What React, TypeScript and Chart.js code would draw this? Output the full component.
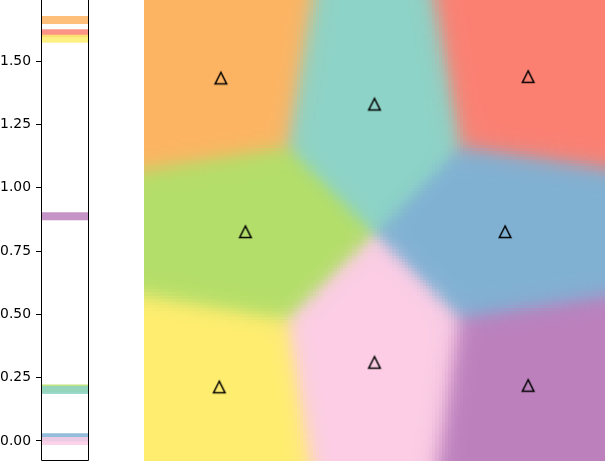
import React, { useEffect, useRef } from "react";
import { Chart, registerables } from "chart.js";

Chart.register(...registerables);

// ---- Data ----
// Seed points of the right panel (data units, x: 0..3, y: 0..3)
const seedX = [0.5, 1.5, 2.5, 0.66, 2.35, 0.49, 1.5, 2.5];
const seedY = [2.49, 2.32, 2.5, 1.49, 1.49, 0.48, 0.64, 0.49];
const seedColors = ["#fdb462", "#8dd3c7", "#fb8072", "#b3de69", "#80b1d3", "#ffed6f", "#fccde5", "#bc80bd"];

// Left panel horizontal bands (listed in drawing order, bottom-most first)
const bandValues = [0.207, 1.61, 0.015, 1.662, 1.588, 0.887, 0.201, 0.0];
const bandColors = ["#b3de69", "#fb8072", "#80b1d3", "#fdb462", "#ffed6f", "#bc80bd", "#8dd3c7", "#fccde5"];

// Left axis ticks
const yTicks = [0, 0.25, 0.5, 0.75, 1.0, 1.25, 1.5];
const yMin = -0.079;
const yMax = 1.741;

const GRID_N = 150;
const TAU = 0.07;

function hexToRgb(h: string): number[] {
  const v = parseInt(h.slice(1), 16);
  return [(v >> 16) & 255, (v >> 8) & 255, v & 255];
}

function hexA(h: string, a: number): string {
  const [r, g, b] = hexToRgb(h);
  return `rgba(${r},${g},${b},${a})`;
}

const voronoiPlugin = {
  id: "voronoiBg",
  beforeDatasetsDraw(chart: any) {
    const { ctx, scales } = chart;
    const xs = scales.x;
    const ys = scales.y;
    const rgb = seedColors.map(hexToRgb);
    const x0 = xs.min, x1 = xs.max, y0 = ys.min, y1 = ys.max;
    const dx = (x1 - x0) / GRID_N;
    const dy = (y1 - y0) / GRID_N;
    ctx.save();
    const d2 = new Array(seedX.length).fill(0);
    for (let i = 0; i < GRID_N; i++) {
      for (let j = 0; j < GRID_N; j++) {
        const cx = x0 + (i + 0.5) * dx;
        const cy = y0 + (j + 0.5) * dy;
        let mn = Infinity;
        for (let k = 0; k < seedX.length; k++) {
          const ex = cx - seedX[k];
          const ey = cy - seedY[k];
          d2[k] = ex * ex + ey * ey;
          if (d2[k] < mn) mn = d2[k];
        }
        let ws = 0, r = 0, g = 0, b = 0;
        for (let k = 0; k < seedX.length; k++) {
          const w = Math.exp(-(d2[k] - mn) / TAU);
          ws += w;
          r += w * rgb[k][0];
          g += w * rgb[k][1];
          b += w * rgb[k][2];
        }
        const px0 = Math.floor(xs.getPixelForValue(x0 + i * dx));
        const px1 = Math.ceil(xs.getPixelForValue(x0 + (i + 1) * dx));
        const py0 = Math.floor(ys.getPixelForValue(y0 + (j + 1) * dy));
        const py1 = Math.ceil(ys.getPixelForValue(y0 + j * dy));
        ctx.fillStyle = `rgb(${Math.round(r / ws)},${Math.round(g / ws)},${Math.round(b / ws)})`;
        ctx.fillRect(px0, py0, px1 - px0, py1 - py0);
      }
    }
    ctx.restore();
  },
};

const framePlugin = {
  id: "leftFrame",
  afterDraw(chart: any) {
    const { ctx, chartArea } = chart;
    ctx.save();
    ctx.strokeStyle = "#000";
    ctx.lineWidth = 1;
    ctx.beginPath();
    const l = Math.floor(chartArea.left) + 0.5;
    const r = Math.floor(chartArea.right) - 0.5;
    const b = Math.floor(chartArea.bottom) - 0.5;
    ctx.moveTo(l, chartArea.top);
    ctx.lineTo(l, b);
    ctx.lineTo(r, b);
    ctx.lineTo(r, chartArea.top);
    ctx.stroke();
    ctx.restore();
  },
};

function makeTriangle(): HTMLCanvasElement {
  const c = document.createElement("canvas");
  c.width = 18;
  c.height = 18;
  const g = c.getContext("2d")!;
  g.strokeStyle = "#000";
  g.lineWidth = 1.5;
  g.lineJoin = "miter";
  g.beginPath();
  g.moveTo(9, 3.0);
  g.lineTo(3.2, 14.6);
  g.lineTo(14.8, 14.6);
  g.closePath();
  g.stroke();
  return c;
}

export default function App() {
  const leftRef = useRef<HTMLCanvasElement>(null);
  const rightRef = useRef<HTMLCanvasElement>(null);

  useEffect(() => {
    const order = bandValues.map((_, i) => i).reverse();
    const left = new Chart(leftRef.current!, {
      type: "line",
      data: {
        datasets: order.map((i) => ({
          data: [
            { x: 0, y: bandValues[i] },
            { x: 1, y: bandValues[i] },
          ],
          borderColor: hexA(bandColors[i], 0.85),
          borderWidth: 8,
          pointRadius: 0,
          borderCapStyle: "butt" as const,
        })),
      },
      options: {
        animation: false,
        responsive: false,
        events: [],
        layout: { autoPadding: false, padding: { left: 0, right: 11, top: 0, bottom: 5 } },
        plugins: { legend: { display: false }, tooltip: { enabled: false } },
        scales: {
          x: { type: "linear", min: 0, max: 1, display: false },
          y: {
            type: "linear",
            min: yMin,
            max: yMax,
            afterBuildTicks: (s: any) => {
              s.ticks = yTicks.map((v) => ({ value: v }));
            },
            afterFit: (s: any) => {
              s.width = 41;
              s.paddingTop = 0;
              s.paddingBottom = 0;
            },
            border: { display: false },
            grid: {
              display: true,
              drawOnChartArea: false,
              drawTicks: true,
              tickLength: 5,
              tickColor: "#000",
              color: "#000",
              lineWidth: 1,
            },
            ticks: {
              color: "#000",
              padding: 5,
              font: { family: "DejaVu Sans", size: 13.9 },
              callback: (v: any) => Number(v).toFixed(2),
            },
          },
        },
      },
      plugins: [framePlugin],
    });

    const tri = makeTriangle();
    const right = new Chart(rightRef.current!, {
      type: "scatter",
      data: {
        datasets: [
          {
            data: seedX.map((x, i) => ({ x, y: seedY[i] })),
            pointStyle: tri as any,
            pointRadius: 7,
          },
        ],
      },
      options: {
        animation: false,
        responsive: false,
        events: [],
        layout: { autoPadding: false, padding: { left: 0, right: 0, top: 0, bottom: 5 } },
        plugins: { legend: { display: false }, tooltip: { enabled: false } },
        scales: {
          x: { type: "linear", min: 0, max: 3, display: false },
          y: { type: "linear", min: 0, max: 3, display: false },
        },
      },
      plugins: [voronoiPlugin],
    });

    return () => {
      left.destroy();
      right.destroy();
    };
  }, []);

  return (
    <div style={{ position: "fixed", left: 0, top: 0, width: 605, height: 466, background: "#fff", overflow: "hidden" }}>
      <canvas ref={leftRef} width={100} height={466} style={{ position: "absolute", left: 0, top: 0 }} />
      <canvas ref={rightRef} width={461} height={466} style={{ position: "absolute", left: 144, top: 0 }} />
    </div>
  );
}
